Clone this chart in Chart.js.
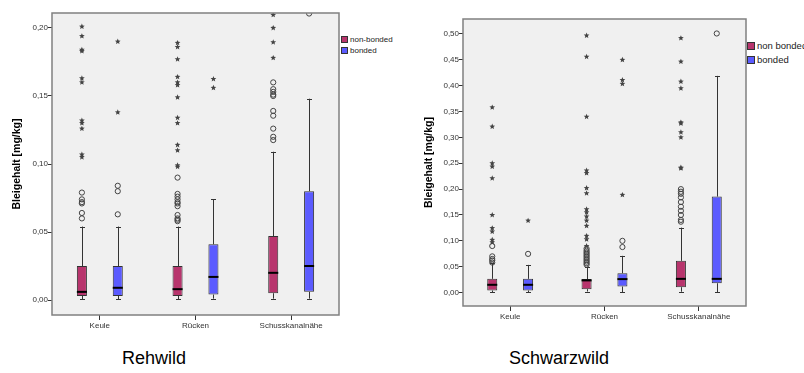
<!DOCTYPE html>
<html>
<head>
<meta charset="utf-8">
<script src="https://cdn.jsdelivr.net/npm/chart.js@4.4.1/dist/chart.umd.min.js"></script>
<style>
  body { margin: 0; background: #fff; font-family: Arial, "Liberation Sans", sans-serif; }
  #wrap { position: relative; width: 804px; height: 373px; overflow: hidden; }
  canvas { position: absolute; top: 0; }
  .legend { position: absolute; color: #222; }
  .legend div { position: relative; white-space: nowrap; }
  .legend span { position: absolute; left: 0; border: 1px solid #333; box-sizing: border-box; }
  .caption { position: absolute; font-size: 18px; color: #000; line-height: 18px; }
</style>
</head>
<body>
<div id="wrap">
  <canvas id="rehChart" width="340" height="335" style="left:0"></canvas>
  <canvas id="schwarzChart" width="337" height="326" style="left:410px"></canvas>
  <div class="legend" id="rehLegend" style="left:341px; top:36px; font-size:8px;"></div>
  <div class="legend" id="schwarzLegend" style="left:747px; top:42px; font-size:9.5px;"></div>
  <div class="caption" style="left:122px; top:349px;">Rehwild</div>
  <div class="caption" style="left:509px; top:349px;">Schwarzwild</div>
</div>
<script>
// categories and tick labels
var categories = ['Keule', 'Rücken', 'Schusskanalnähe'];
var rehTicks = [0, 0.05, 0.10, 0.15, 0.20];
var schwarzTicks = [0, 0.05, 0.10, 0.15, 0.20, 0.25, 0.30, 0.35, 0.40, 0.45, 0.50];
var colors = ['#b8356d', '#5b5bff'];

// Rehwild: [min, q1, median, q3, max] per category
var rehNonBondedBox = [
  [0.0005, 0.003, 0.006, 0.025, 0.054],
  [0.0005, 0.003, 0.008, 0.025, 0.054],
  [0.001, 0.005, 0.020, 0.047, 0.109]
];
var rehBondedBox = [
  [0.0005, 0.003, 0.009, 0.025, 0.054],
  [0.001, 0.004, 0.017, 0.041, 0.074],
  [0.001, 0.006, 0.025, 0.080, 0.148]
];
var rehNonBondedCircles = [
  [0.079, 0.074, 0.072, 0.071, 0.064, 0.060],
  [0.090, 0.078, 0.076, 0.074, 0.072, 0.071, 0.069, 0.0625, 0.060, 0.059, 0.058],
  [0.160, 0.155, 0.153, 0.151, 0.150, 0.139, 0.1355, 0.126, 0.120, 0.1176]
];
var rehNonBondedStars = [
  [0.201, 0.194, 0.184, 0.183, 0.163, 0.160, 0.132, 0.130, 0.126, 0.107, 0.105],
  [0.189, 0.186, 0.177, 0.164, 0.160, 0.158, 0.149, 0.134, 0.130, 0.114, 0.110, 0.099, 0.098],
  [0.2096, 0.200, 0.1895, 0.178]
];
var rehBondedCircles = [
  [0.084, 0.080, 0.063],
  [],
  [0.2106]
];
var rehBondedStars = [
  [0.190, 0.138],
  [0.1625, 0.156],
  []
];

// Schwarzwild: [min, q1, median, q3, max] per category
var schwarzNonBondedBox = [
  [0.001, 0.004, 0.015, 0.0265, 0.057],
  [0.002, 0.0066, 0.0235, 0.026, 0.050],
  [0.0016, 0.0104, 0.0265, 0.0613, 0.1256]
];
var schwarzBondedBox = [
  [0.001, 0.004, 0.015, 0.0265, 0.0535],
  [0.001, 0.0116, 0.026, 0.0375, 0.071],
  [0.001, 0.018, 0.0265, 0.1856, 0.419]
];
var schwarzNonBondedCircles = [
  [0.090, 0.070, 0.065, 0.062, 0.058],
  [0.085, 0.081, 0.078, 0.075, 0.072, 0.069, 0.066, 0.063, 0.060, 0.057, 0.054],
  [0.200, 0.195, 0.191, 0.184, 0.175, 0.166, 0.158, 0.150, 0.1405, 0.137]
];
var schwarzNonBondedStars = [
  [0.358, 0.321, 0.250, 0.2435, 0.221, 0.150, 0.1245, 0.118, 0.102, 0.097],
  [0.497, 0.456, 0.340, 0.236, 0.231, 0.202, 0.192, 0.161, 0.155, 0.147, 0.139, 0.129, 0.1096, 0.103, 0.090],
  [0.492, 0.4465, 0.408, 0.395, 0.329, 0.327, 0.310, 0.300, 0.2416, 0.240]
];
var schwarzBondedCircles = [
  [0.0748],
  [0.100, 0.088],
  [0.501]
];
var schwarzBondedStars = [
  [0.139],
  [0.450, 0.411, 0.4035, 0.1888],
  []
];

Chart.defaults.font.family = 'Arial, "Liberation Sans", sans-serif';
Chart.defaults.color = '#333';

function drawStar(ctx, x, y, r) {
  ctx.beginPath();
  for (var k = 0; k < 10; k++) {
    var rad = k % 2 === 0 ? r : r * 0.45;
    var a = -Math.PI / 2 + k * Math.PI / 5;
    var px = x + rad * Math.cos(a), py = y + rad * Math.sin(a);
    if (k === 0) ctx.moveTo(px, py); else ctx.lineTo(px, py);
  }
  ctx.closePath();
  ctx.fill();
}

// draws background, whiskers, medians, outliers and frame from the bar elements + y scale
var boxPlugin = {
  id: 'boxplot',
  beforeDraw: function (chart) {
    var a = chart.chartArea, ctx = chart.ctx;
    ctx.save();
    ctx.fillStyle = '#f0f0f0';
    ctx.fillRect(a.left, a.top, a.right - a.left, a.bottom - a.top);
    ctx.restore();
  },
  beforeDatasetsDraw: function (chart, args, opts) {
    var ctx = chart.ctx, y = chart.scales.y;
    ctx.save();
    ctx.strokeStyle = '#333';
    ctx.lineWidth = 1;
    opts.stats.forEach(function (boxes, i) {
      var meta = chart.getDatasetMeta(i);
      boxes.forEach(function (s, j) {
        var x = Math.round(meta.data[j].x) + 0.5;
        ctx.beginPath();
        ctx.moveTo(x, y.getPixelForValue(s[4]));
        ctx.lineTo(x, y.getPixelForValue(s[3]));
        ctx.moveTo(x, y.getPixelForValue(s[1]));
        ctx.lineTo(x, y.getPixelForValue(s[0]));
        ctx.moveTo(x - 2.5, Math.round(y.getPixelForValue(s[4])) + 0.5);
        ctx.lineTo(x + 2.5, Math.round(y.getPixelForValue(s[4])) + 0.5);
        ctx.moveTo(x - 2.5, Math.round(y.getPixelForValue(s[0])) + 0.5);
        ctx.lineTo(x + 2.5, Math.round(y.getPixelForValue(s[0])) + 0.5);
        ctx.stroke();
      });
    });
    ctx.restore();
  },
  afterDatasetsDraw: function (chart, args, opts) {
    var ctx = chart.ctx, y = chart.scales.y, a = chart.chartArea;
    ctx.save();
    ctx.beginPath();
    ctx.rect(a.left, a.top, a.right - a.left, a.bottom - a.top);
    ctx.clip();
    opts.stats.forEach(function (boxes, i) {
      var meta = chart.getDatasetMeta(i);
      boxes.forEach(function (s, j) {
        var bar = meta.data[j];
        var my = y.getPixelForValue(s[2]);
        ctx.strokeStyle = '#000';
        ctx.lineWidth = 2;
        ctx.beginPath();
        ctx.moveTo(bar.x - bar.width / 2, my);
        ctx.lineTo(bar.x + bar.width / 2, my);
        ctx.stroke();

        ctx.strokeStyle = '#444';
        ctx.lineWidth = 1;
        opts.circles[i][j].forEach(function (v) {
          ctx.beginPath();
          ctx.arc(bar.x, y.getPixelForValue(v), 2.6, 0, Math.PI * 2);
          ctx.stroke();
        });
        ctx.fillStyle = '#444';
        opts.stars[i][j].forEach(function (v) {
          drawStar(ctx, bar.x, y.getPixelForValue(v), 3);
        });
      });
    });
    ctx.restore();
  },
  afterDraw: function (chart) {
    var a = chart.chartArea, ctx = chart.ctx;
    ctx.save();
    ctx.strokeStyle = '#808080';
    ctx.lineWidth = 1.5;
    ctx.strokeRect(a.left, a.top, a.right - a.left, a.bottom - a.top);
    ctx.restore();
  }
};

function makeChart(id, cfg) {
  var fmt = function (v) { return v.toFixed(2).replace('.', ','); };
  return new Chart(document.getElementById(id), {
    type: 'bar',
    data: {
      labels: categories,
      datasets: [
        { label: cfg.names[0], data: cfg.stats[0].map(function (s) { return [s[1], s[3]]; }),
          backgroundColor: colors[0], borderColor: '#333', borderWidth: 1, borderSkipped: false },
        { label: cfg.names[1], data: cfg.stats[1].map(function (s) { return [s[1], s[3]]; }),
          backgroundColor: colors[1], borderColor: '#333', borderWidth: 1, borderSkipped: false }
      ]
    },
    options: {
      responsive: false,
      animation: false,
      categoryPercentage: cfg.catPct,
      barPercentage: 0.28,
      layout: { padding: { top: cfg.top, right: 1, left: 0, bottom: 0 } },
      plugins: {
        legend: { display: false },
        tooltip: { enabled: false },
        boxplot: { stats: cfg.stats, circles: cfg.circles, stars: cfg.stars }
      },
      scales: {
        x: {
          grid: { drawOnChartArea: false, offset: false, tickLength: 5, color: '#333' },
          border: { display: false },
          ticks: { font: { size: 8 }, padding: 1, color: '#333', maxRotation: 0 },
          afterFit: function (s) { s.height = 20; }
        },
        y: {
          min: cfg.min, max: cfg.max,
          grid: { drawOnChartArea: false, tickLength: 4, color: '#333' },
          border: { display: false },
          ticks: { font: { size: 8 }, padding: 0, color: '#333', callback: fmt },
          afterBuildTicks: function (s) { s.ticks = cfg.ticks.map(function (v) { return { value: v }; }); },
          afterFit: function (s) { s.width = cfg.axisWidth; },
          title: { display: true, text: 'Bleigehalt [mg/kg]', color: '#000',
                   font: { size: 10.5, weight: 'bold' }, padding: { top: cfg.titlePad, bottom: 0 } }
        }
      }
    },
    plugins: [boxPlugin]
  });
}

function makeLegend(id, names, box, gap) {
  var el = document.getElementById(id);
  names.forEach(function (n, i) {
    var row = document.createElement('div');
    row.style.height = gap + 'px';
    row.style.lineHeight = box + 'px';
    row.style.paddingLeft = (box + 2) + 'px';
    var sw = document.createElement('span');
    sw.style.width = box + 'px';
    sw.style.height = box + 'px';
    sw.style.background = colors[i];
    row.appendChild(sw);
    row.appendChild(document.createTextNode(n));
    el.appendChild(row);
  });
}

makeChart('rehChart', {
  names: ['non-bonded', 'bonded'],
  stats: [rehNonBondedBox, rehBondedBox],
  circles: [rehNonBondedCircles, rehBondedCircles],
  stars: [rehNonBondedStars, rehBondedStars],
  ticks: rehTicks, min: -0.011, max: 0.211,
  top: 13, axisWidth: 52, titlePad: 11, catPct: 0.75
});
makeChart('schwarzChart', {
  names: ['non bonded', 'bonded'],
  stats: [schwarzNonBondedBox, schwarzBondedBox],
  circles: [schwarzNonBondedCircles, schwarzBondedCircles],
  stars: [schwarzNonBondedStars, schwarzBondedStars],
  ticks: schwarzTicks, min: -0.026, max: 0.529,
  top: 19, axisWidth: 53, titlePad: 13, catPct: 0.76
});
makeLegend('rehLegend', ['non-bonded', 'bonded'], 7, 11);
makeLegend('schwarzLegend', ['non bonded', 'bonded'], 8, 14);
</script>
</body>
</html>
